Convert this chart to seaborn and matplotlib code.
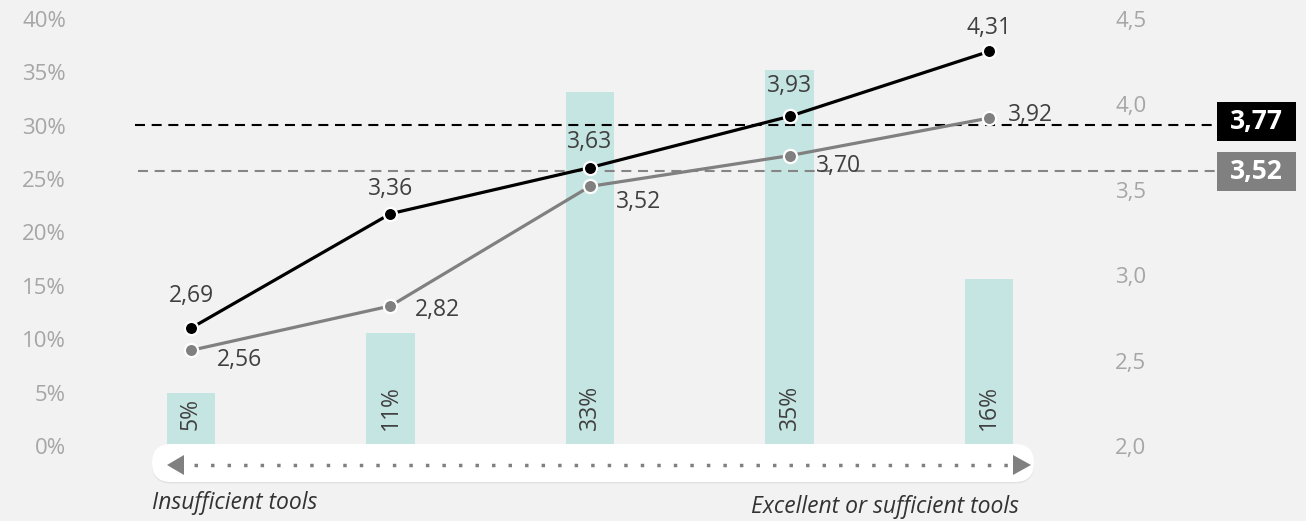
import numpy as np
import pandas as pd
import matplotlib
matplotlib.use("Agg")
import matplotlib.pyplot as plt
import matplotlib.transforms as mtransforms
from matplotlib.patches import FancyBboxPatch, Polygon, Rectangle
from matplotlib.lines import Line2D
import seaborn as sns

# ---------------- data ----------------
categories = ["1", "2", "3", "4", "5"]
share_pct = [5.0, 10.6, 33.2, 35.2, 15.6]
score_black = [2.69, 3.36, 3.63, 3.93, 4.31]
score_gray = [2.56, 2.82, 3.52, 3.70, 3.92]
avg_labels = [3.77, 3.52]          # values shown in the boxes
avg_levels = [3.88, 3.61]          # where the dashed lines sit on the right axis
left_ticks = [0, 5, 10, 15, 20, 25, 30, 35, 40]
right_ticks = [2.0, 2.5, 3.0, 3.5, 4.0, 4.5]
label_low = "Insufficient tools"
label_high = "Excellent or sufficient tools"

# ---------------- style ----------------
W, H = 1306, 521
BG = "#f2f2f2"
BAR = "#c5e5e2"
GRAY = "#808080"
TXT = "#404040"
TICK = "#a6a6a6"

sns.set_theme(style="white", rc={"axes.facecolor": BG, "figure.facecolor": BG,
                                 "savefig.facecolor": BG})
plt.rcParams["font.family"] = ["Open Sans", "DejaVu Sans"]

fig = plt.figure(figsize=(W / 100, H / 100), dpi=100)
ax = fig.add_axes([80 / W, 75 / H, 1020 / W, 427 / H])

df = pd.DataFrame({"cat": categories, "share": share_pct})
sns.barplot(data=df, x="cat", y="share", ax=ax, color=BAR, saturation=1,
            width=0.242, linewidth=0, zorder=1)
ax.set_xlim(-0.556, 4.556)
ax.set_ylim(0, 40)
ax.set_yticks(left_ticks)
ax.set_yticklabels([f"{t}%" for t in left_ticks])
ax.set_xlabel("")
ax.set_ylabel("")
ax.tick_params(axis="y", length=0, pad=10, labelsize=16, labelcolor=TICK)
ax.tick_params(axis="x", length=0, labelbottom=False)
for s in ax.spines.values():
    s.set_visible(False)

for i, v in enumerate(share_pct):
    ax.text(i, 1.5, f"{round(v)}%", rotation=90, ha="center", va="bottom",
            fontsize=16.5, color=TXT, zorder=3)

ax2 = ax.twinx()
ax2.set_ylim(2.0, 4.5)
ax2.set_yticks(right_ticks)
ax2.set_yticklabels([f"{t:.1f}".replace(".", ",") for t in right_ticks])
ax2.tick_params(axis="y", length=0, pad=11, labelsize=16, labelcolor=TICK)
for s in ax2.spines.values():
    s.set_visible(False)
ax2.grid(False)
ax.grid(False)

# dashed average lines spanning beyond the axes
blend = mtransforms.blended_transform_factory(fig.transFigure, ax2.transData)
dash_colors = ["black", "#858585"]
dash_starts = [135 / W, 138 / W]
for lvl, c, xs in zip(avg_levels, dash_colors, dash_starts):
    ax2.add_line(Line2D([xs, 1217 / W], [lvl, lvl], transform=blend, color=c,
                        lw=1.5, linestyle=(0, (4.8, 3.2)), clip_on=False, zorder=1))

x = np.arange(len(categories))
sns.lineplot(x=x, y=score_gray, ax=ax2, color=GRAY, lw=2.3, marker="o",
             markersize=9.5, markeredgecolor="white", markeredgewidth=1.6, zorder=4)
sns.lineplot(x=x, y=score_black, ax=ax2, color="black", lw=2.3, marker="o",
             markersize=9.5, markeredgecolor="white", markeredgewidth=1.6, zorder=5)

fmt = lambda v: f"{v:.2f}".replace(".", ",")
black_off = [(0, 23), (0, 18), (0, 18.5), (0, 21.5), (0, 17)]
gray_off = [(35, -7), (34, -3), (35, -11), (35, -7.5), (30, 2)]
for i, v in enumerate(score_black):
    ax2.annotate(fmt(v), (i, v), xytext=black_off[i], textcoords="offset points",
                 ha="center", va="center", fontsize=16.5, color=TXT, zorder=6)
for i, v in enumerate(score_gray):
    ax2.annotate(fmt(v), (i, v), xytext=gray_off[i], textcoords="offset points",
                 ha="center", va="center", fontsize=16.5, color=TXT, zorder=6)

ax.set_zorder(0)
ax2.set_zorder(1)
ax2.patch.set_visible(False)

# boxes with average values (figure pixel space)
fig.canvas.draw()
ident = mtransforms.IdentityTransform()
box_colors = ["black", GRAY]
box_shift = [3.5, 0]
for lvl, val, c, sh in zip(avg_levels, avg_labels, box_colors, box_shift):
    yp = ax2.transData.transform((0, lvl))[1] + sh
    fig.add_artist(Rectangle((1217, yp - 19.5), 79, 39, transform=ident,
                             facecolor=c, edgecolor="none", zorder=5))
    fig.text(1256 / W, yp / H, fmt(val), ha="center", va="center", color="white",
             fontsize=19, fontweight="bold", zorder=6)

# bottom scale pill
fig.add_artist(FancyBboxPatch((152, H - 483.5), 882, 38,
                              boxstyle="round,pad=0,rounding_size=19",
                              transform=ident, facecolor="#d8d8d8", edgecolor="none",
                              alpha=0.6, zorder=2))
fig.add_artist(FancyBboxPatch((152, H - 482), 882, 38,
                              boxstyle="round,pad=0,rounding_size=19",
                              transform=ident, facecolor="white", edgecolor="none",
                              zorder=3))
yl = H - 465
fig.add_artist(Line2D([194, 1008], [yl, yl], transform=ident, color=GRAY, lw=2.5,
                      linestyle=(0, (1, 3.76)), solid_capstyle="butt",
                      dash_capstyle="butt", zorder=4))
fig.add_artist(Polygon([(167, yl), (184, yl + 10), (184, yl - 10)], closed=True,
                       transform=ident, facecolor=GRAY, edgecolor="none", zorder=4))
fig.add_artist(Polygon([(1031, yl), (1013, yl + 10), (1013, yl - 10)], closed=True,
                       transform=ident, facecolor=GRAY, edgecolor="none", zorder=4))

fig.text(152 / W, (H - 503) / H, label_low, ha="left", va="center", fontsize=16.5,
         style="italic", color="#333333")
fig.text(1019 / W, (H - 507) / H, label_high, ha="right", va="center", fontsize=16.5,
         style="italic", color="#333333")

fig.savefig("out.png", dpi=100)
